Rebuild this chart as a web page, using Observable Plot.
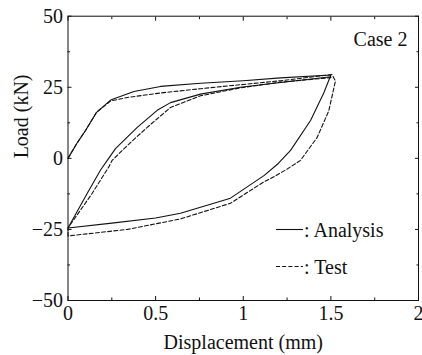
<!DOCTYPE html>
<html>
<head>
<meta charset="utf-8">
<script src="https://cdn.jsdelivr.net/npm/d3@7"></script>
<script src="https://cdn.jsdelivr.net/npm/@observablehq/plot@0.6"></script>
<style>
  html, body { margin: 0; padding: 0; background: #fff; }
  #chart svg { display: block; }
</style>
</head>
<body>
<div id="chart"></div>
<script>
// Load–displacement hysteresis loop, Case 2: analysis vs. test.
const analysisDisp = [0, 0.05, 0.1, 0.163, 0.243, 0.376, 0.528, 0.756, 1.0, 1.213, 1.5,
  1.46, 1.384, 1.27, 1.2, 1.12, 0.927, 0.642, 0.5, 0.25, 0,
  0.11, 0.185, 0.224, 0.271, 0.395, 0.509, 0.585, 0.756, 0.984, 1.213, 1.5];
const analysisLoad = [0, 5.2, 9.8, 16.2, 20.5, 23.5, 25.3, 26.4, 27.3, 28.3, 29.3,
  23.1, 13.3, 2.8, -1.8, -6.0, -14.0, -19.3, -21.0, -22.8, -24.5,
  -12.3, -4.2, -0.7, 3.4, 10.9, 16.9, 19.6, 22.6, 25.0, 26.7, 28.7];

const testDisp = [0, 0.05, 0.1, 0.163, 0.243, 0.338, 0.528, 0.756, 0.984, 1.213, 1.507,
  1.526, 1.488, 1.422, 1.327, 1.25, 1.174, 1.117, 0.927, 0.642, 0.528, 0.338, 0,
  0, 0.138, 0.233, 0.252, 0.338, 0.452, 0.585, 0.756, 0.984, 1.213, 1.5];
const testLoad = [0, 5.2, 9.8, 16.2, 20.2, 21.4, 23.0, 24.5, 25.9, 27.3, 29.5,
  27.2, 16.7, 7.4, -0.7, -3.8, -6.5, -8.3, -15.8, -21.3, -22.7, -25.0, -27.3,
  -24.5, -12.3, -3.0, -0.7, 4.5, 10.9, 17.9, 22.0, 24.8, 26.8, 28.4];

const xMajorTicks = [0, 0.5, 1, 1.5, 2];
const xMinorTicks = [0.25, 0.75, 1.25, 1.75];
const yMajorTicks = [-50, -25, 0, 25, 50];
const yMinorTicks = [-37.5, -12.5, 12.5, 37.5];

const seriesNames = ["Analysis", "Test"];
const seriesDash = [null, "4,2.2"];
const panelLabel = "Case 2";
const xLabel = "Displacement (mm)";
const yLabel = "Load (kN)";

const toRows = (xs, ys) => xs.map((x, i) => ({x, y: ys[i]}));
const analysis = toRows(analysisDisp, analysisLoad);
const test = toRows(testDisp, testLoad);

// plain numbers with a typographic minus sign
const tickText = d => (d < 0 ? "\u2212" : "") + String(Math.abs(d));

// inward tick marks on all four sides of the frame
function inwardTicks(ticks, size) {
  return [
    Plot.axisX({anchor: "bottom", ticks, tickSize: size, dy: -size, fill: "none", label: null}),
    Plot.axisX({anchor: "top", ticks, tickSize: size, dy: size, fill: "none", label: null})
  ];
}
function inwardTicksY(ticks, size) {
  return [
    Plot.axisY({anchor: "left", ticks, tickSize: size, dx: size, fill: "none", label: null}),
    Plot.axisY({anchor: "right", ticks, tickSize: size, dx: -size, fill: "none", label: null})
  ];
}

const chart = Plot.plot({
  width: 422,
  height: 355,
  marginLeft: 67.5,
  marginRight: 4,
  marginTop: 15.7,
  marginBottom: 55,
  style: {fontFamily: "'Liberation Serif', 'Times New Roman', serif", fontSize: "20px", color: "#111", background: "#fff"},
  x: {domain: [0, 2]},
  y: {domain: [-50, 50]},
  marks: [
    ...inwardTicks(xMajorTicks, 4),
    ...inwardTicks(xMinorTicks, 2.5),
    ...inwardTicksY(yMajorTicks, 4),
    ...inwardTicksY(yMinorTicks, 2.5),
    Plot.axisX({anchor: "bottom", ticks: xMajorTicks, tickSize: 0, tickPadding: 5, tickFormat: tickText, label: null}),
    Plot.axisY({anchor: "left", ticks: yMajorTicks, tickSize: 0, tickPadding: 5, tickFormat: tickText, label: null}),
    Plot.frame({stroke: "#111", strokeWidth: 1}),
    Plot.line(analysis, {x: "x", y: "y", stroke: "#111", strokeWidth: 1.1}),
    Plot.line(test, {x: "x", y: "y", stroke: "#111", strokeWidth: 1.1, strokeDasharray: seriesDash[1]}),
    Plot.text([panelLabel], {frameAnchor: "top-right", text: d => d, dx: -11, dy: 23.5, lineAnchor: "middle", textAnchor: "end", fill: "#111"}),
    Plot.text([xLabel], {frameAnchor: "bottom", text: d => d, dy: 42, lineAnchor: "middle", fill: "#111"}),
    Plot.text([yLabel], {frameAnchor: "left", text: d => d, dx: -46.5, rotate: -90, lineAnchor: "middle", fill: "#111"})
  ]
});

document.getElementById("chart").appendChild(chart);

// in-plot legend: line sample followed by ": name"
const svg = d3.select(chart);
const legend = svg.append("g").attr("class", "legend").attr("text-anchor", "start");
seriesNames.forEach((name, i) => {
  const cy = 229.5 + i * 37;
  legend.append("line")
    .attr("x1", 276).attr("x2", 303)
    .attr("y1", cy).attr("y2", cy)
    .attr("stroke", "#111").attr("stroke-width", 1.1)
    .attr("stroke-dasharray", seriesDash[i]);
  legend.append("text")
    .attr("x", 304).attr("y", cy)
    .attr("dy", "0.35em")
    .attr("fill", "#111")
    .attr("font-size", 20)
    .attr("text-anchor", "start")
    .text(": " + name);
});
</script>
</body>
</html>
